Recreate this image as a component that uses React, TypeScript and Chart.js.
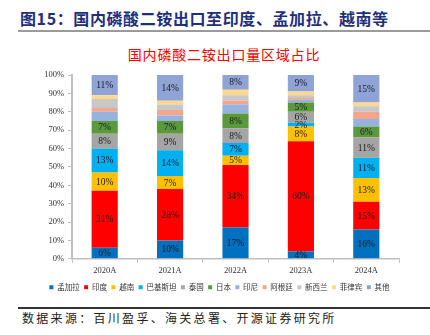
import React, { useEffect, useRef } from "react";
import { Chart, registerables } from "chart.js";

Chart.register(...registerables);

const categories = ["2020A", "2021A", "2022A", "2023A", "2024A"];

const bangladesh = [6, 10, 17, 4, 16];
const india = [31, 28, 34, 60, 15];
const vietnam = [10, 7, 5, 8, 13];
const pakistan = [13, 14, 7, 2, 11];
const thailand = [8, 9, 8, 6, 11];
const japan = [7, 7, 8, 5, 6];
const indonesia = [5, 3, 5, 1.5, 4];
const argentina = [2, 3, 2, 1, 4];
const newZealand = [5, 3, 3, 1.5, 3];
const philippines = [2, 2, 3, 2, 2];
const others = [11, 14, 8, 9, 15];

const seriesNames = ["孟加拉", "印度", "越南", "巴基斯坦", "泰国", "日本", "印尼", "阿根廷", "新西兰", "菲律宾", "其他"];
const seriesValues = [bangladesh, india, vietnam, pakistan, thailand, japan, indonesia, argentina, newZealand, philippines, others];
const seriesColors = ["#0070C0", "#FF0000", "#FFC000", "#00B0F0", "#A5A5A5", "#5B9A3C", "#95B3DE", "#F4A68C", "#C8C8C8", "#FFD88C", "#8FA3D6"];
const labeledSeries = ["孟加拉", "印度", "越南", "巴基斯坦", "泰国", "日本", "其他"];

const yTicks = [0, 10, 20, 30, 40, 50, 60, 70, 80, 90, 100];

const segLabels = {
  id: "segLabels",
  afterDatasetsDraw(chart: any) {
    const ctx = chart.ctx;
    ctx.save();
    ctx.font = "9.5px 'Liberation Serif'";
    ctx.fillStyle = "#1a1a1a";
    ctx.textAlign = "center";
    ctx.textBaseline = "middle";
    chart.data.datasets.forEach((ds: any, i: number) => {
      if (!labeledSeries.includes(ds.label)) return;
      const meta = chart.getDatasetMeta(i);
      meta.data.forEach((el: any, j: number) => {
        const v = ds.data[j];
        const p = el.getProps(["x", "y", "base"], true);
        ctx.fillText(`${Math.round(v)}%`, p.x, (p.y + p.base) / 2 + 0.5);
      });
    });
    ctx.restore();
  },
};

// shift the legend row so it is centred on the whole figure rather than the padded box
const legendShift = {
  id: "legendShift",
  beforeDraw(chart: any) {
    const lg = chart.legend;
    if (lg) {
      lg.left = 20;
      lg.right = 419;
    }
  },
};

export default function App() {
  const ref = useRef<HTMLCanvasElement | null>(null);
  useEffect(() => {
    if (!ref.current) return;
    const chart = new Chart(ref.current, {
      type: "bar",
      data: {
        labels: categories,
        datasets: seriesNames.map((name, i) => ({
          label: name,
          data: seriesValues[i],
          backgroundColor: seriesColors[i],
          borderWidth: 0,
          barPercentage: 0.4,
          categoryPercentage: 1,
        })),
      },
      options: {
        animation: false,
        responsive: false,
        maintainAspectRatio: false,
        layout: { padding: { top: 13, right: 31, left: 0, bottom: 2 } },
        plugins: {
          tooltip: { enabled: false },
          title: { display: false },
          legend: {
            position: "bottom",
            labels: {
              boxWidth: 4,
              boxHeight: 4,
              padding: 4.5,
              color: "#333",
              font: { size: 7.5, family: "'Noto Sans CJK SC'" },
            },
          },
        },
        scales: {
          x: {
            stacked: true,
            grid: { display: true, drawOnChartArea: false, drawTicks: true, tickLength: 4, color: "#BFBFBF", offset: true },
            border: { display: true, color: "#BFBFBF", width: 1.5 },
            ticks: { color: "#333", font: { size: 8.5, family: "'Liberation Serif'" }, padding: 3 },
          },
          y: {
            stacked: true,
            min: 0,
            max: 100,
            afterFit: (s: any) => { s.width = 72; },
            afterBuildTicks: (s: any) => { s.ticks = yTicks.map((v) => ({ value: v })); },
            grid: { display: true, drawOnChartArea: false, drawTicks: true, tickLength: 4, color: "#BFBFBF" },
            border: { display: true, color: "#BFBFBF", width: 2 },
            ticks: { color: "#333", font: { size: 8.5, family: "'Liberation Serif'" }, padding: 4, callback: (v: any) => `${v}%` },
          },
        },
      },
      plugins: [segLabels, legendShift],
    });
    return () => chart.destroy();
  }, []);

  return (
    <div style={{ position: "fixed", left: 0, top: 0, width: 430, height: 335, background: "#fff", overflow: "hidden" }}>
      <div style={{ position: "absolute", left: 20, top: 7, fontFamily: "'Noto Sans CJK SC'", fontWeight: 700, fontSize: 16, lineHeight: "22px", letterSpacing: 0.6, color: "#1F2F7A", whiteSpace: "nowrap" }}>
        图15：国内磷酸二铵出口至印度、孟加拉、越南等
      </div>
      <div style={{ position: "absolute", left: 18, top: 30, width: 412, height: 2, background: "#9A9A9A" }} />
      <div style={{ position: "absolute", left: 0, width: 448, top: 44, textAlign: "center", fontFamily: "'Noto Sans CJK SC'", fontSize: 14, lineHeight: "20px", letterSpacing: 0.8, color: "#FF0000", whiteSpace: "nowrap" }}>
        国内磷酸二铵出口量区域占比
      </div>
      <canvas ref={ref} width={430} height={241} style={{ position: "absolute", left: 0, top: 62, width: 430, height: 241 }} />
      <div style={{ position: "absolute", left: 18, top: 307, width: 412, height: 1.5, background: "#333" }} />
      <div style={{ position: "absolute", left: 22, top: 309, fontFamily: "'Noto Sans CJK SC'", fontSize: 12, lineHeight: "18px", letterSpacing: 2.3, color: "#222", whiteSpace: "nowrap" }}>
        数据来源：百川盈孚、海关总署、开源证券研究所
      </div>
    </div>
  );
}
